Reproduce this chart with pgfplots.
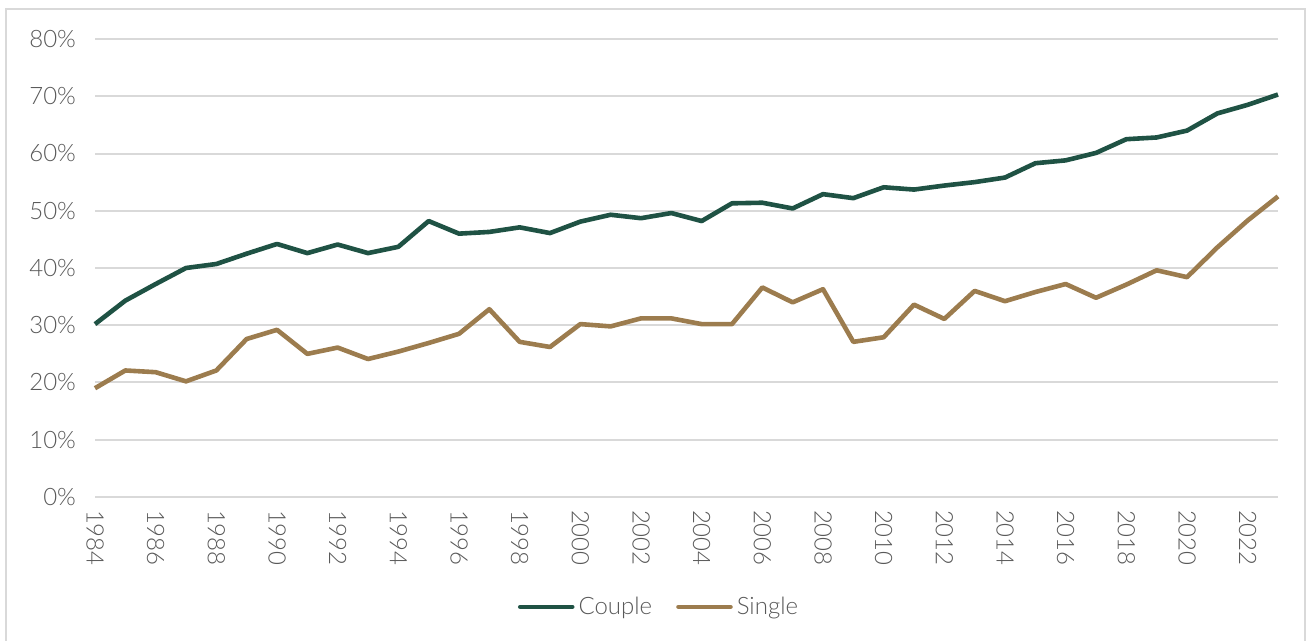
\documentclass[border=0pt]{standalone}
\usepackage{fontspec}
\setmainfont{Lato}[UprightFont={* Light}]
\usepackage{pgfplots}
\pgfplotsset{compat=1.18}
\definecolor{couple}{HTML}{1F5244}
\definecolor{single}{HTML}{9C7C4E}
\definecolor{txt}{HTML}{595959}
\definecolor{gridc}{HTML}{D9D9D9}
\begin{document}
\begin{tikzpicture}
\useasboundingbox (0,0) rectangle (653.5pt,320.5pt);
\draw[gridc, line width=1pt] (3pt,0pt) -- (3pt,316pt) -- (652.5pt,316pt) -- (652.5pt,0pt);
\begin{axis}[
  at={(47.5pt,72pt)}, anchor=south west,
  scale only axis, width=591.5pt, height=229pt,
  xmin=1984, xmax=2023, ymin=0, ymax=80,
  xtick={1984,1986,...,2022},
  ytick={0,10,...,80},
  yticklabel={\pgfmathprintnumber{\tick}\%},
  /pgf/number format/assume math mode=true,
  x tick label style={rotate=-90, anchor=west, font=\fontsize{12pt}{14pt}\selectfont, text=txt, /pgf/number format/1000 sep={}},
  y tick label style={font=\fontsize{12pt}{14pt}\selectfont, text=txt},
  xticklabel shift=3pt, yticklabel shift=6pt,
  axis line style={draw=none},
  major tick length=0pt,
  xmajorgrids=false,
  ymajorgrids=true,
  major grid style={draw=gridc, line width=1pt},
  legend columns=2,
  legend style={at={(0.4776,-0.240)}, anchor=center, draw=none, fill=none,
    font=\fontsize{12pt}{14pt}\selectfont, text=txt,
    /tikz/every even column/.append style={column sep=10pt}},
  legend image code/.code={\draw[line cap=round, #1] (0pt,0pt) -- (26pt,0pt);},
  clip=false,
]
\addplot[couple, line width=2.3pt, line join=round] coordinates {
(1984,30.2) (1985,34.3) (1986,37.2) (1987,40.0) (1988,40.7) (1989,42.5) (1990,44.2)
(1991,42.6) (1992,44.1) (1993,42.6) (1994,43.7) (1995,48.2) (1996,46.0) (1997,46.3)
(1998,47.1) (1999,46.1) (2000,48.1) (2001,49.3) (2002,48.7) (2003,49.6) (2004,48.2)
(2005,51.3) (2006,51.4) (2007,50.4) (2008,52.9) (2009,52.2) (2010,54.1) (2011,53.7)
(2012,54.4) (2013,55.0) (2014,55.8) (2015,58.3) (2016,58.8) (2017,60.1) (2018,62.5)
(2019,62.8) (2020,64.0) (2021,67.0) (2022,68.5) (2023,70.3)
};
\addlegendentry{Couple}
\addplot[single, line width=2.3pt, line join=round] coordinates {
(1984,19.0) (1985,22.1) (1986,21.8) (1987,20.2) (1988,22.1) (1989,27.6) (1990,29.2)
(1991,25.0) (1992,26.1) (1993,24.1) (1994,25.4) (1995,26.9) (1996,28.5) (1997,32.8)
(1998,27.1) (1999,26.2) (2000,30.2) (2001,29.8) (2002,31.2) (2003,31.2) (2004,30.2)
(2005,30.2) (2006,36.6) (2007,34.0) (2008,36.3) (2009,27.1) (2010,27.9) (2011,33.6)
(2012,31.1) (2013,36.0) (2014,34.2) (2015,35.8) (2016,37.2) (2017,34.8) (2018,37.1)
(2019,39.6) (2020,38.4) (2021,43.6) (2022,48.3) (2023,52.5)
};
\addlegendentry{Single}
\end{axis}
\end{tikzpicture}
\end{document}
